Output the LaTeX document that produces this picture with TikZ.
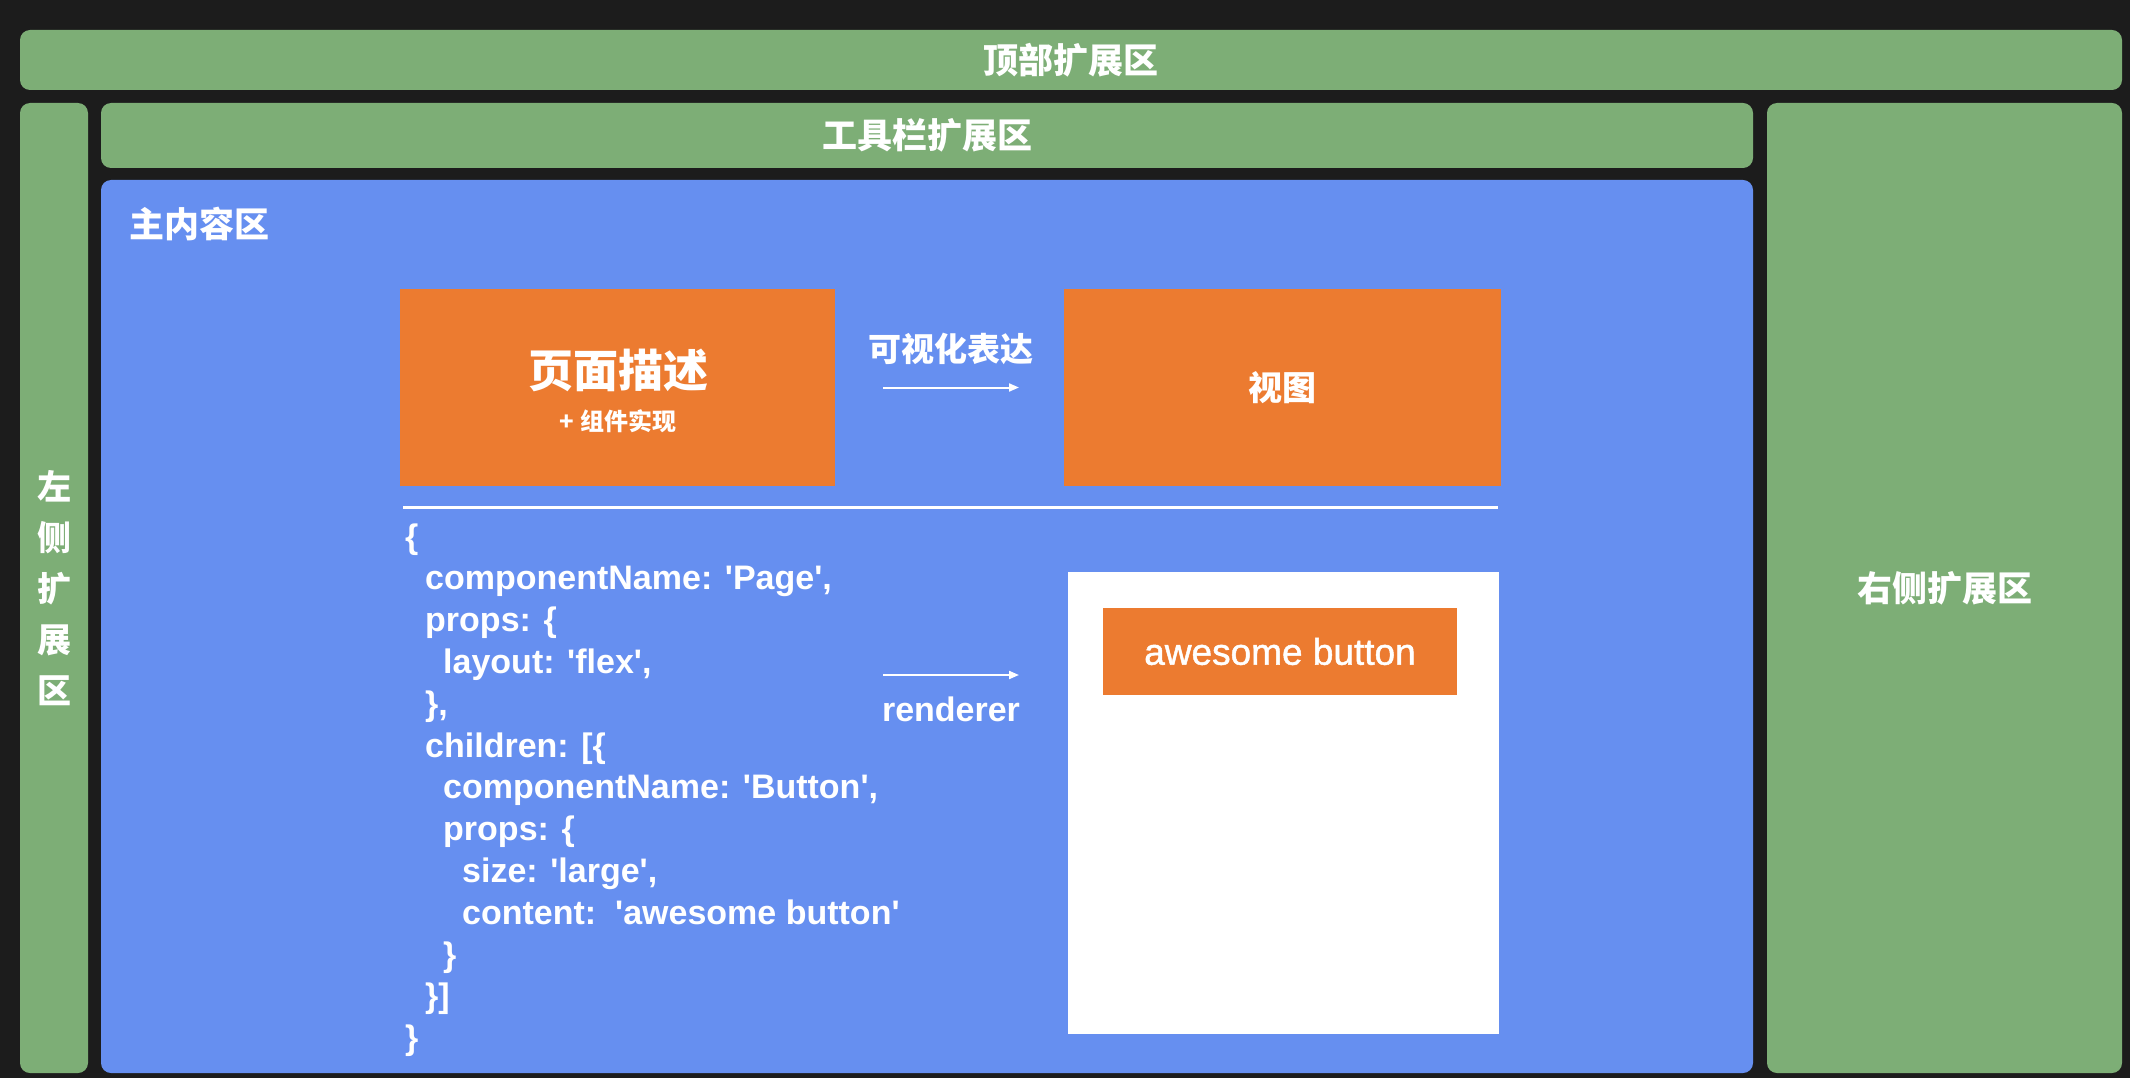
\documentclass[tikz,border=0pt]{standalone}
\usepackage{fontspec}
\setmainfont{Liberation Sans}
\newfontfamily\cjk{Noto Sans CJK SC}
\newfontfamily\hv{Liberation Sans}
\newfontfamily\hvm[FakeBold=1.3]{Liberation Sans}
\usetikzlibrary{arrows.meta}
\definecolor{bgdark}{HTML}{1C1C1C}
\definecolor{gbar}{HTML}{7DAE76}
\definecolor{mainblue}{HTML}{668FF0}
\definecolor{orng}{HTML}{EC7B30}
\tikzset{
  box/.style={inner sep=0pt, outer sep=0pt, rectangle},
  greenbar/.style={box, fill=gbar, rounded corners=10pt},
  bluebox/.style={box, fill=mainblue, rounded corners=10pt},
  orangebox/.style={box, fill=orng},
  whitebox/.style={box, fill=white},
  cjklabel/.style={inner sep=0pt, text=white, font=\cjk\bfseries\fontsize{35}{42}\selectfont},
  codeline/.style={inner sep=0pt, anchor=base west, text=white, font=\hv\bfseries\fontsize{34}{40}\selectfont},
  arr/.style={draw=white, line width=2pt, -{Triangle[length=10pt,width=8pt]}},
}
\begin{document}
\begin{tikzpicture}[x=1pt,y=-1pt]
\fill[bgdark] (0,0) rectangle (2130,1078);
\useasboundingbox (0,0) rectangle (2130,1078);
% frame bars
\node[greenbar, minimum width=2102pt, minimum height=60pt] (top) at (1071,60) {};
\node[cjklabel] (toplbl) at (top.center) {顶部扩展区};
\node[greenbar, minimum width=68pt, minimum height=970pt] (left) at (54,588) {};
\node[cjklabel, align=center, font=\cjk\bfseries\fontsize{34}{51}\selectfont] (leftlbl) at (left.center) {左\\侧\\扩\\展\\区};
\node[greenbar, minimum width=1652pt, minimum height=65pt] (tool) at (927,135.5) {};
\node[cjklabel] (toollbl) at (tool.center) {工具栏扩展区};
\node[bluebox, minimum width=1652pt, minimum height=893pt] (main) at (927,626.5) {};
\node[cjklabel, anchor=west] (mainlbl) at (129,224) {主内容区};
\node[greenbar, minimum width=355pt, minimum height=970pt] (right) at (1944.5,588) {};
\node[cjklabel] (rightlbl) at (right.center) {右侧扩展区};
% top row
\node[orangebox, minimum width=435pt, minimum height=197pt] (desc) at (617.5,387.5) {};
\node[cjklabel, font=\cjk\bfseries\fontsize{45}{50}\selectfont] (desclbl) at (618,370) {页面描述};
\node[cjklabel, font=\cjk\bfseries\fontsize{24}{28}\selectfont] (desclbl2) at (618,421) {+ 组件实现};
\node[orangebox, minimum width=437pt, minimum height=197pt] (view) at (1282.5,387.5) {};
\node[cjklabel, font=\cjk\bfseries\fontsize{34}{40}\selectfont] (viewlbl) at (view.center) {视图};
\node[cjklabel, font=\cjk\bfseries\fontsize{33}{40}\selectfont] (vislbl) at (951,349) {可视化表达};
\draw[arr, shorten <=48pt, shorten >=45pt] (desc.east) -- (view.west);
% separator
\coordinate (s1) at (403,507);
\coordinate (s2) at (1498,507);
\draw[white, line width=3pt] (s1) -- (s2);
% code
\node[codeline] (c0) at (405,548) {\{};
\node[codeline] (c1) at (425,589.8) {componentName: 'Page',};
\node[codeline] (c2) at (425,631.6) {props: \{};
\node[codeline] (c3) at (443,673.4) {layout: 'flex',};
\node[codeline] (c4) at (425,715.2) {\},};
\node[codeline] (c5) at (425,757) {children: [\{};
\node[codeline] (c6) at (443,798.8) {componentName: 'Button',};
\node[codeline] (c7) at (443,840.6) {props: \{};
\node[codeline] (c8) at (462,882.4) {size: 'large',};
\node[codeline] (c9) at (462,924.2) {content:\ \ 'awesome button'};
\node[codeline] (c10) at (443,966) {\}};
\node[codeline] (c11) at (425,1007.8) {\}]};
\node[codeline] (c12) at (405,1049.6) {\}};
% renderer
\coordinate (r1) at (883,675);
\coordinate (r2) at (1019,675);
\draw[arr] (r1) -- (r2);
\node[inner sep=0pt, text=white, font=\hv\bfseries\fontsize{34}{40}\selectfont] (rend) at (951,709) {renderer};
% rendered view
\node[whitebox, minimum width=431pt, minimum height=462pt] (canvas) at (1283.5,803) {};
\node[orangebox, minimum width=354pt, minimum height=87pt] (btn) at (1280,651.5) {};
\node[inner sep=0pt, text=white, font=\hvm\fontsize{37}{42}\selectfont] (btnlbl) at (btn.center) {awesome button};
\end{tikzpicture}
\end{document}
